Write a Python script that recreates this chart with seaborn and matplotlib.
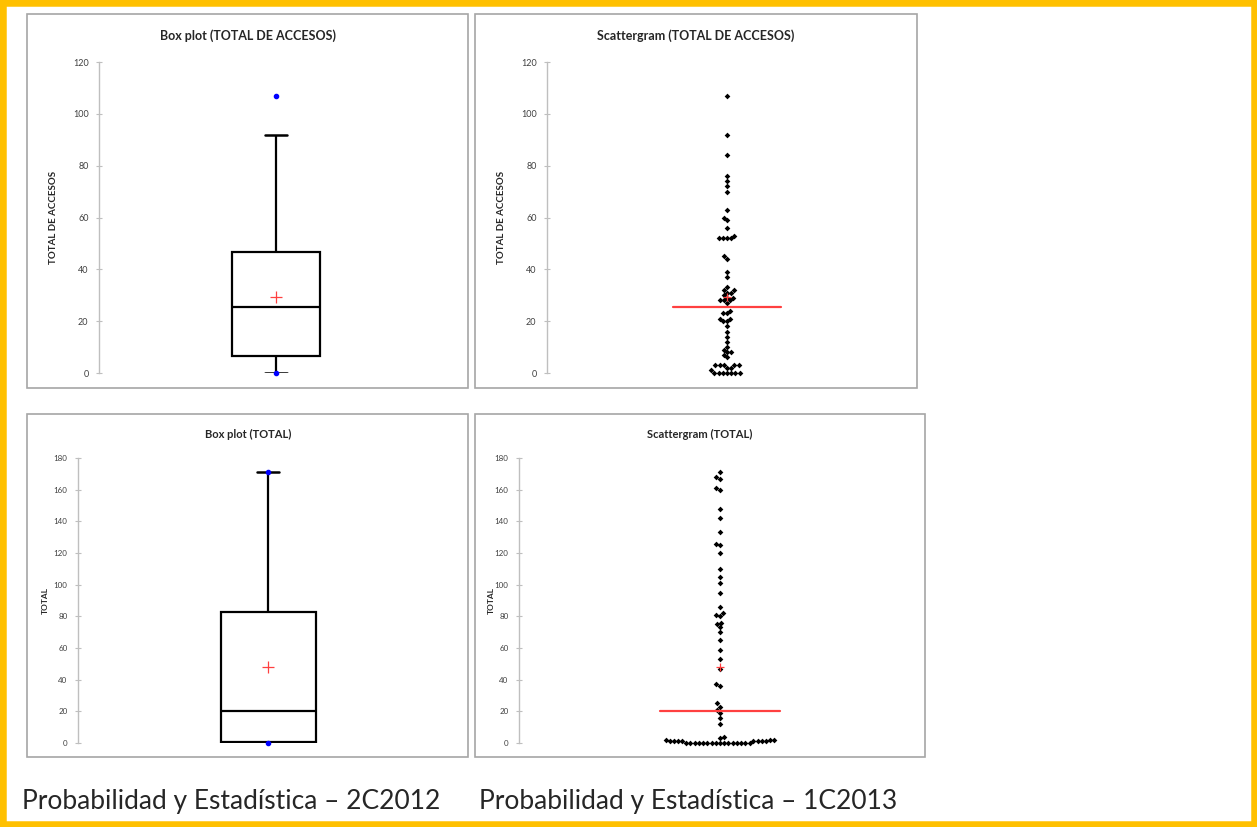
import numpy as np
import pandas as pd
import matplotlib
matplotlib.use("Agg")
import matplotlib.pyplot as plt
from matplotlib.patches import Rectangle
import seaborn as sns

# ---------------- data ----------------
accesos_2c2012 = [107, 92, 84, 76, 74, 72, 70, 63, 60, 59,
                  56, 53, 52, 52, 52, 52, 45, 44, 39, 37,
                  33, 32, 32, 31, 31, 30, 29, 29, 28, 28,
                  28, 27, 24, 23, 23, 21, 21, 20, 20, 18,
                  16, 14, 12, 10, 9, 8, 8, 7, 6, 3,
                  3, 3, 3, 3, 2, 2, 1, 0, 0, 0,
                  0, 0, 0, 0]
total_1c2013 = [171, 168, 167, 161, 160, 148, 142, 133, 126, 125,
                120, 110, 105, 101, 95,
                86, 82, 81, 80, 76, 75, 73, 70, 65, 59, 53, 47, 37, 36,
                25, 23, 21, 19, 16, 12, 4, 3,
                2, 2, 2, 1, 1, 1, 1, 1, 1, 1, 1, 0,
                0, 0, 0, 0, 0, 0, 0, 0, 0, 0, 0, 0, 0, 0, 0]

titles = ["Box plot (TOTAL DE ACCESOS)", "Scattergram (TOTAL DE ACCESOS)",
          "Box plot (TOTAL)", "Scattergram (TOTAL)"]
ylabels = ["TOTAL DE ACCESOS", "TOTAL"]
yticks_top = [0, 20, 40, 60, 80, 100, 120]
yticks_bottom = [0, 20, 40, 60, 80, 100, 120, 140, 160, 180]
captions = ["Probabilidad y Estadística – 2C2012", "Probabilidad y Estadística – 1C2013"]

# ---------------- figure ----------------
sns.set_style("white")
plt.rcParams['font.family'] = ['Lato', 'DejaVu Sans']

W, H = 1257, 827
fig = plt.figure(figsize=(W / 100, H / 100), dpi=100)
fig.patch.set_facecolor("white")


def fx(x):
    return x / W


def fy(y):
    return 1 - y / H


def add_axes_px(x0, x1, ytop, ybot):
    return fig.add_axes([fx(x0), fy(ybot), fx(x1) - fx(x0), fy(ytop) - fy(ybot)])


# outer yellow frame
fig.add_artist(Rectangle((0, 0), 1, 1, transform=fig.transFigure, fill=False,
                         edgecolor="#FFC000", linewidth=9, clip_on=False))

# panel frames
panels = [(27, 468, 14, 388), (475, 917, 14, 388), (27, 468, 414, 757), (475, 925, 414, 757)]
for (x0, x1, y0, y1) in panels:
    fig.add_artist(Rectangle((fx(x0), fy(y1)), fx(x1) - fx(x0), fy(y0) - fy(y1),
                             transform=fig.transFigure, fill=False,
                             edgecolor="#A6A6A6", linewidth=1.2))


def style_axis(ax, ticks, ymax, lsize):
    ax.set_ylim(0, ymax)
    ax.set_xlim(-0.5, 0.5)
    ax.set_yticks(ticks)
    ax.set_xticks([])
    for s in ["top", "right", "bottom"]:
        ax.spines[s].set_visible(False)
    ax.spines["left"].set_color("#BFBFBF")
    ax.spines["left"].set_linewidth(1)
    ax.tick_params(axis="y", direction="inout", length=5, width=0.8, color="#BFBFBF",
                   labelsize=lsize, labelcolor="#404040", pad=5, left=True)
    ax.set_xlabel("")
    ax.set_ylabel("")
    ax.patch.set_alpha(0)


def draw_box(ax, data, ticks, ymax, width, lsize):
    df = pd.DataFrame({"v": data})
    sns.boxplot(data=df, y="v", ax=ax, width=width, whis=1.5, showfliers=False,
                color="white", linecolor="black", linewidth=1.6,
                capwidths=0.06, capprops=dict(linewidth=1.8))
    ax.scatter([0, 0], [df["v"].min(), df["v"].max()], color="#0000FF", s=9,
               zorder=5, clip_on=False)
    ax.scatter([0], [df["v"].mean()], marker="+", color="#FF4040", s=70,
               linewidths=0.9, zorder=5)
    style_axis(ax, ticks, ymax, lsize)


def draw_swarm(ax, data, ticks, ymax, lsize):
    df = pd.DataFrame({"v": data})
    sns.swarmplot(data=df, y="v", ax=ax, color="black", marker="D", size=2.9)
    for c in ax.collections:
        c.set_clip_on(False)
    med = df["v"].median()
    ax.plot([-0.15, 0.15], [med, med], color="#FF4040", linewidth=1.6, zorder=6)
    ax.scatter([0], [df["v"].mean()], marker="+", color="#FF4040", s=40,
               linewidths=0.9, zorder=7)
    style_axis(ax, ticks, ymax, lsize)


ax1 = add_axes_px(99, 453, 62, 373)
draw_box(ax1, accesos_2c2012, yticks_top, 120, 0.25, 6.5)
ax2 = add_axes_px(547, 907, 62, 373)
draw_swarm(ax2, accesos_2c2012, yticks_top, 120, 6.5)
ax3 = add_axes_px(78, 458, 458, 743)
draw_box(ax3, total_1c2013, yticks_bottom, 180, 0.25, 5.8)
ax4 = add_axes_px(519, 921, 458, 743)
draw_swarm(ax4, total_1c2013, yticks_bottom, 180, 5.8)

# titles
fig.text(fx(248), fy(36), titles[0], ha="center", va="center", fontsize=9, fontweight="bold")
fig.text(fx(696), fy(36), titles[1], ha="center", va="center", fontsize=9, fontweight="bold")
fig.text(fx(248), fy(434), titles[2], ha="center", va="center", fontsize=8, fontweight="bold")
fig.text(fx(700), fy(434), titles[3], ha="center", va="center", fontsize=8, fontweight="bold")

# y labels
fig.text(fx(54), fy(217), ylabels[0], ha="center", va="center", rotation=90, fontsize=7, fontweight="bold")
fig.text(fx(502), fy(217), ylabels[0], ha="center", va="center", rotation=90, fontsize=7, fontweight="bold")
fig.text(fx(45), fy(600), ylabels[1], ha="center", va="center", rotation=90, fontsize=6, fontweight="bold")
fig.text(fx(491), fy(600), ylabels[1], ha="center", va="center", rotation=90, fontsize=6, fontweight="bold")

# captions
fig.text(fx(22), fy(801), captions[0], ha="left", va="center", fontsize=19)
fig.text(fx(479), fy(801), captions[1], ha="left", va="center", fontsize=19)

fig.savefig("out.png", dpi=100, facecolor="white")
